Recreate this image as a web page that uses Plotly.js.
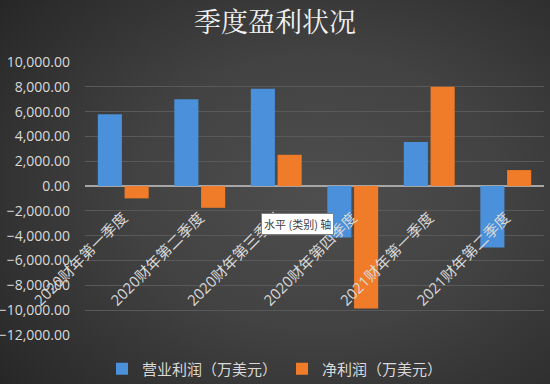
<!DOCTYPE html>
<html>
<head>
<meta charset="utf-8">
<script src="https://cdn.plot.ly/plotly-3.0.1.min.js"></script>
<style>
html,body{margin:0;padding:0;}
body{width:550px;height:384px;overflow:hidden;
background: radial-gradient(ellipse 75% 80% at 58% 50%, #4e4e4e 0%, #424242 45%, #2e2e2e 85%, #262626 100%);}
#chart{width:550px;height:384px;}
</style>
</head>
<body>
<div id="chart"></div>
<script>
const categories = ["2020财年第一季度","2020财年第二季度","2020财年第三季度","2020财年第四季度","2021财年第一季度","2021财年第二季度"];
const operatingProfit = [5780, 6990, 7850, -4140, 3550, -4950];
const netProfit = [-990, -1750, 2520, -9860, 8010, 1290];
const seriesNames = ["营业利润（万美元）","净利润（万美元）"];
const tickVals = [10000,8000,6000,4000,2000,0,-2000,-4000,-6000,-8000,-10000,-12000];

const latinCjk = "'Open Sans', 'Noto Sans CJK SC', sans-serif";

const data = [
  {type:'bar', name:seriesNames[0], x:categories, y:operatingProfit,
   marker:{color:'#4a90da', line:{width:0}}, hoverinfo:'none'},
  {type:'bar', name:seriesNames[1], x:categories, y:netProfit,
   marker:{color:'#f07c2a', line:{width:0}}, hoverinfo:'none'}
];

const layout = {
  width:550, height:384,
  paper_bgcolor:'rgba(0,0,0,0)', plot_bgcolor:'rgba(0,0,0,0)',
  margin:{l:85, r:6, t:62, b:49},
  title:{text:'季度盈利状况', x:0.5, xanchor:'center', y:0.94, yanchor:'middle',
    font:{family:"'Noto Serif CJK SC','Noto Sans CJK SC', serif", size:27, color:'#f2f2f2'}},
  barmode:'group', bargap:0.3, bargroupgap:0.1,
  xaxis:{anchor:'free', position:12000/22000, showgrid:false, showline:false, zeroline:false,
    ticks:'', tickangle:-45, ticklabelstandoff:19, tickfont:{family:latinCjk, size:15, color:'#d9d9d9'}, automargin:false},
  yaxis:{range:[-12000,10000], tickvals:tickVals, tickformat:',.2f', showgrid:true,
    gridcolor:'#595959', gridwidth:1, zeroline:true, zerolinecolor:'#a6a6a6', zerolinewidth:2,
    ticks:'', ticklen:0, ticklabelstandoff:14, tickfont:{family:latinCjk, size:14, color:'#d9d9d9'}, automargin:false},
  legend:{orientation:'h', x:0.5, xref:'container', xanchor:'center', y:0.039, yref:'container', yanchor:'middle',
    font:{family:"'Noto Sans CJK SC', sans-serif", size:15, color:'#d9d9d9'},
    itemwidth:30, traceorder:'normal'},
  annotations:[{xref:'paper', yref:'paper', x:0.383, y:0.408, xanchor:'left', yanchor:'middle',
    text:'水平 (类别) 轴', showarrow:false, bgcolor:'#ffffff', bordercolor:'#7f7f7f', borderwidth:1, borderpad:2,
    font:{family:"'Noto Sans CJK SC', sans-serif", size:11, color:'#404040'}}],
  showlegend:true
};

Plotly.newPlot('chart', data, layout, {displayModeBar:false, staticPlot:true});
</script>
</body>
</html>
